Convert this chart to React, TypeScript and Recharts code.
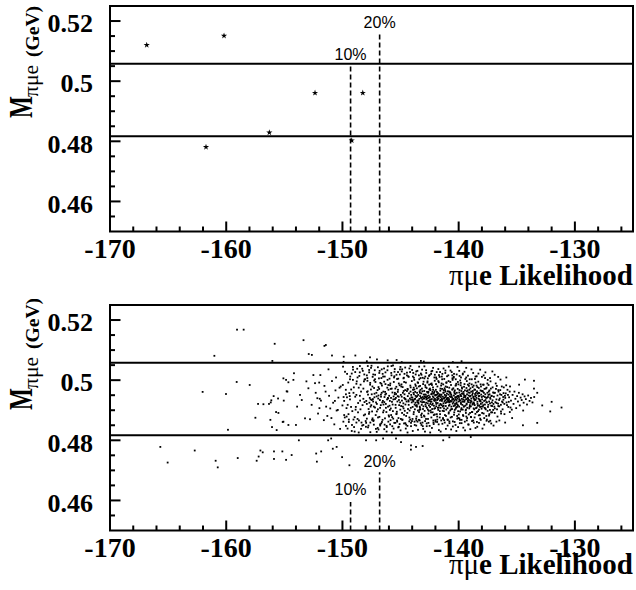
import React from 'react'
import {
  ScatterChart, Scatter, XAxis, YAxis,
  ReferenceLine, ReferenceArea, Symbols,
} from 'recharts'

// ── Axes ──────────────────────────────────────────────────────────────────────
const X_DOMAIN: [number, number] = [-170, -125]
const Y_DOMAIN: [number, number] = [0.45, 0.525]
const xTicks = [-170, -168, -166, -164, -162, -160, -158, -156, -154, -152, -150, -148, -146, -144, -142, -140, -138, -136, -134, -132, -130, -128, -126]
const xMajor = [-170, -160, -150, -140, -130]
const yTicks = [0.455, 0.46, 0.465, 0.47, 0.475, 0.48, 0.485, 0.49, 0.495, 0.5, 0.505, 0.51, 0.515, 0.52]
const yMajor = [0.46, 0.48, 0.5, 0.52]

// mass window and likelihood cuts
const massWindow = [0.4817, 0.5058]
const cutLabels = ['10%', '20%']
const cutX = [-149.3, -146.8]
const topCutTops = [0.5058, 0.516]
const bottomCutTops = [0.4595, 0.4694]

// ── Data: top panel (candidates) ──────────────────────────────────────────────
const dataStars = [
  [-166.84, 0.512], [-160.19, 0.5151], [-161.74, 0.4781], [-156.29, 0.4829],
  [-152.36, 0.4961], [-148.25, 0.4961], [-149.2, 0.4803],
]

// ── Data: bottom panel (signal MC) ────────────────────────────────────────────
const mcLeftTail = [
  [-159.07, 0.5168], [-158.5, 0.5168], [-155.83, 0.5121], [-161.02, 0.5081], [-156.03, 0.5064],
  [-155.08, 0.5006], [-154.65, 0.4993], [-159.1, 0.4994], [-157.98, 0.4984], [-162.03, 0.4961],
  [-160.02, 0.4954], [-154.8, 0.4963], [-155.92, 0.4947], [-155.54, 0.4939], [-156.12, 0.4933],
  [-155.05, 0.4932], [-157.26, 0.4921], [-156.8, 0.492], [-156.32, 0.4921], [-156.17, 0.4926],
  [-155.71, 0.4894], [-155.51, 0.4891], [-157.49, 0.4875], [-156.2, 0.4868], [-155.14, 0.4861],
  [-156.06, 0.4844], [-155.66, 0.4834], [-154.65, 0.4851], [-159.85, 0.4835],
  [-165.67, 0.4778], [-162.71, 0.4766], [-165.04, 0.4726], [-160.91, 0.4732], [-160.73, 0.471],
  [-159.01, 0.4741], [-157.06, 0.4766], [-156.86, 0.476], [-157.21, 0.4746], [-157.38, 0.4732],
  [-155.89, 0.4763], [-155.17, 0.4763], [-155.89, 0.4738], [-154.85, 0.4735],
]
const mcBandA = [
  [-154.17, 0.5023], [-154.85, 0.5001], [-154.22, 0.5001], [-154.74, 0.4962], [-155.08, 0.4862],
  [-154.0, 0.4851], [-153.22, 0.4873], [-152.79, 0.487], [-153.65, 0.4951], [-153.5, 0.4934],
  [-152.93, 0.4973], [-152.5, 0.5017], [-152.36, 0.499], [-152.16, 0.494], [-151.98, 0.4907],
  [-152.65, 0.4918], [-153.9, 0.4912], [-153.1, 0.4996],
]
const mcBandB = [
  [-152.3, 0.4958], [-152.1, 0.4889], [-151.9, 0.5017], [-151.85, 0.4932], [-151.6, 0.4867], [-151.55, 0.4981],
  [-151.4, 0.4912], [-151.2, 0.5036], [-151.15, 0.4948], [-150.95, 0.4874], [-150.9, 0.4997], [-150.8, 0.4925],
  [-150.7, 0.4853], [-150.6, 0.4966], [-150.55, 0.5009], [-150.4, 0.4901], [-150.35, 0.4942], [-150.2, 0.4838],
  [-150.15, 0.4979], [-150.0, 0.4916], [-149.95, 0.5045], [-149.85, 0.4884], [-149.7, 0.4953], [-149.65, 0.4907],
  [-149.5, 0.4992], [-149.45, 0.4861], [-149.35, 0.4936], [-149.2, 0.5022], [-149.15, 0.4897], [-149.05, 0.4958],
  [-148.95, 0.4829], [-148.9, 0.4945], [-148.8, 0.4988], [-148.7, 0.4871], [-148.65, 0.4924], [-148.55, 0.5014],
  [-148.45, 0.4903], [-148.4, 0.4962], [-148.3, 0.4849], [-148.2, 0.4938], [-148.15, 0.4996], [-148.05, 0.4886],
  [-151.95, 0.4938], [-151.45, 0.4962], [-151.05, 0.4906], [-150.65, 0.4931], [-150.25, 0.4975], [-149.9, 0.4944],
  [-149.55, 0.4918], [-149.25, 0.4969], [-148.85, 0.4911], [-148.5, 0.4948], [-148.1, 0.4927], [-152.0, 0.4992],
  [-151.3, 0.4881], [-150.5, 0.4899], [-149.8, 0.4876], [-149.1, 0.5001], [-148.6, 0.4975], [-148.25, 0.5031],
]
const mcBandC = [
  [-147.95, 0.4931], [-147.9, 0.4872], [-147.85, 0.4998], [-147.8, 0.4952], [-147.75, 0.4904], [-147.7, 0.5026],
  [-147.65, 0.4941], [-147.6, 0.4859], [-147.55, 0.4969], [-147.52, 0.4917], [-147.88, 0.4961], [-147.72, 0.4888],
  [-147.62, 0.4985], [-147.98, 0.4845], [-147.58, 0.4936], [-147.82, 0.5047], [-147.68, 0.4925],
  [-147.48, 0.4953], [-147.45, 0.4896], [-147.4, 0.5011], [-147.36, 0.4929], [-147.32, 0.4867], [-147.28, 0.4974],
  [-147.25, 0.4943], [-147.2, 0.4909], [-147.16, 0.4994], [-147.12, 0.4838], [-147.08, 0.4958], [-147.04, 0.4921],
  [-147.42, 0.4979], [-147.3, 0.4912], [-147.22, 0.5033], [-147.14, 0.4884], [-147.06, 0.4946], [-147.38, 0.4937],
  [-146.98, 0.4967], [-146.95, 0.4903], [-146.9, 0.4949], [-146.86, 0.5006], [-146.82, 0.4878], [-146.78, 0.4934],
  [-146.74, 0.4991], [-146.7, 0.4917], [-146.66, 0.4856], [-146.62, 0.4958], [-146.58, 0.4926], [-146.54, 0.5021],
  [-146.5, 0.4893], [-146.92, 0.4939], [-146.84, 0.4971], [-146.76, 0.4908], [-146.68, 0.4945], [-146.6, 0.4982],
  [-146.52, 0.4931],
  [-146.48, 0.4962], [-146.45, 0.4899], [-146.42, 0.5039], [-146.38, 0.4944], [-146.34, 0.4873], [-146.3, 0.4987],
  [-146.27, 0.4921], [-146.24, 0.4955], [-146.2, 0.4848], [-146.16, 0.4936], [-146.12, 0.5001], [-146.08, 0.4912],
  [-146.04, 0.4968], [-146.4, 0.4927], [-146.32, 0.4952], [-146.22, 0.4894], [-146.14, 0.4975], [-146.06, 0.4939],
  [-146.02, 0.4883], [-146.36, 0.5012],
  [-145.98, 0.4948], [-145.95, 0.4915], [-145.9, 0.4983], [-145.86, 0.4867], [-145.82, 0.4941], [-145.78, 0.5016],
  [-145.74, 0.4928], [-145.7, 0.4959], [-145.66, 0.4897], [-145.62, 0.4936], [-145.58, 0.4994], [-145.54, 0.4858],
  [-145.5, 0.4953], [-145.92, 0.4931], [-145.84, 0.4906], [-145.76, 0.4972], [-145.68, 0.4919], [-145.6, 0.4946],
  [-145.52, 0.5028], [-145.88, 0.4989], [-145.72, 0.4877],
  [-145.48, 0.4937], [-145.45, 0.4972], [-145.42, 0.4908], [-145.38, 0.4954], [-145.34, 0.4889], [-145.3, 0.5004],
  [-145.27, 0.4929], [-145.24, 0.4961], [-145.2, 0.4843], [-145.16, 0.4945], [-145.12, 0.4917], [-145.08, 0.4983],
  [-145.04, 0.4926], [-145.4, 0.4941], [-145.32, 0.4895], [-145.22, 0.4968], [-145.14, 0.4934], [-145.06, 0.5019],
  [-145.02, 0.4902], [-145.36, 0.4978], [-145.18, 0.4874],
  [-144.98, 0.4951], [-144.95, 0.4914], [-144.92, 0.4986], [-144.88, 0.4932], [-144.84, 0.4869], [-144.8, 0.4958],
  [-144.76, 0.4923], [-144.72, 0.5008], [-144.68, 0.4941], [-144.64, 0.4898], [-144.6, 0.4967], [-144.56, 0.4936],
  [-144.52, 0.4852], [-144.9, 0.4945], [-144.82, 0.4977], [-144.74, 0.4906], [-144.66, 0.4953], [-144.58, 0.4919],
  [-144.54, 0.4992], [-144.86, 0.5036], [-144.7, 0.4885], [-144.62, 0.4938],
  [-144.48, 0.4929], [-144.45, 0.4964], [-144.42, 0.4891], [-144.38, 0.4947], [-144.34, 0.5013], [-144.3, 0.4918],
  [-144.27, 0.4956], [-144.24, 0.4876], [-144.2, 0.4939], [-144.16, 0.4982], [-144.12, 0.4908], [-144.08, 0.4951],
  [-144.04, 0.4926], [-144.4, 0.4971], [-144.32, 0.4933], [-144.22, 0.4899], [-144.14, 0.4962], [-144.06, 0.4943],
  [-144.02, 0.4864], [-144.36, 0.4904], [-144.18, 0.5027], [-144.1, 0.4935],
]
const mcBandD = [
  [-143.98, 0.4942], [-143.96, 0.4911], [-143.93, 0.4968], [-143.9, 0.4929], [-143.88, 0.4887], [-143.85, 0.4953],
  [-143.82, 0.5001], [-143.8, 0.4936], [-143.77, 0.4903], [-143.74, 0.4961], [-143.72, 0.4925], [-143.69, 0.4981],
  [-143.66, 0.4872], [-143.64, 0.4944], [-143.61, 0.4917], [-143.58, 0.4958], [-143.56, 0.4932], [-143.53, 0.4993],
  [-143.51, 0.4899], [-143.95, 0.4935], [-143.87, 0.4975], [-143.79, 0.4919], [-143.71, 0.4948], [-143.63, 0.4866],
  [-143.55, 0.4927], [-143.91, 0.5024], [-143.75, 0.4938], [-143.59, 0.4912],
  [-143.48, 0.4951], [-143.46, 0.4922], [-143.43, 0.4979], [-143.41, 0.4894], [-143.38, 0.4938], [-143.36, 0.4963],
  [-143.33, 0.4908], [-143.31, 0.4947], [-143.28, 0.5007], [-143.26, 0.4929], [-143.23, 0.4884], [-143.21, 0.4956],
  [-143.18, 0.4918], [-143.16, 0.4972], [-143.13, 0.4935], [-143.11, 0.4859], [-143.08, 0.4944], [-143.06, 0.4987],
  [-143.03, 0.4913], [-143.01, 0.4952], [-143.45, 0.4933], [-143.37, 0.4901], [-143.29, 0.4968], [-143.22, 0.4941],
  [-143.14, 0.4926], [-143.07, 0.4904], [-143.42, 0.5016], [-143.34, 0.4958], [-143.19, 0.4877], [-143.04, 0.4939],
  [-142.98, 0.4927], [-142.96, 0.4964], [-142.93, 0.4898], [-142.91, 0.4945], [-142.88, 0.4983], [-142.86, 0.4919],
  [-142.83, 0.4952], [-142.81, 0.4871], [-142.78, 0.4936], [-142.76, 0.4974], [-142.73, 0.4908], [-142.71, 0.4947],
  [-142.68, 0.4996], [-142.66, 0.4923], [-142.63, 0.4958], [-142.61, 0.4889], [-142.58, 0.4941], [-142.56, 0.4916],
  [-142.53, 0.4969], [-142.51, 0.4933], [-142.95, 0.4939], [-142.87, 0.5012], [-142.8, 0.4925], [-142.72, 0.4961],
  [-142.65, 0.4902], [-142.57, 0.4949], [-142.94, 0.4879], [-142.77, 0.4943], [-142.62, 0.4931], [-142.54, 0.4985],
  [-142.48, 0.4944], [-142.46, 0.4911], [-142.43, 0.4967], [-142.41, 0.4928], [-142.38, 0.4893], [-142.36, 0.4953],
  [-142.33, 0.4989], [-142.31, 0.4937], [-142.28, 0.4904], [-142.26, 0.4961], [-142.23, 0.4922], [-142.21, 0.4976],
  [-142.18, 0.4866], [-142.16, 0.4942], [-142.13, 0.4915], [-142.11, 0.4958], [-142.08, 0.4931], [-142.06, 0.4998],
  [-142.03, 0.4907], [-142.01, 0.4949], [-142.45, 0.4936], [-142.37, 0.5021], [-142.29, 0.4918], [-142.22, 0.4946],
  [-142.14, 0.4884], [-142.07, 0.4963], [-142.42, 0.4899], [-142.34, 0.4929], [-142.19, 0.4955], [-142.04, 0.4938],
  [-141.98, 0.4934], [-141.96, 0.4968], [-141.93, 0.4913], [-141.91, 0.4951], [-141.88, 0.4887], [-141.86, 0.4942],
  [-141.83, 0.4979], [-141.81, 0.4924], [-141.78, 0.4957], [-141.76, 0.4901], [-141.73, 0.4939], [-141.71, 0.4993],
  [-141.68, 0.4916], [-141.66, 0.4948], [-141.63, 0.4876], [-141.61, 0.4932], [-141.58, 0.4965], [-141.56, 0.4908],
  [-141.53, 0.4944], [-141.51, 0.4982], [-141.95, 0.4926], [-141.87, 0.4961], [-141.8, 0.4937], [-141.72, 0.4909],
  [-141.65, 0.4953], [-141.57, 0.4921], [-141.94, 0.5009], [-141.77, 0.4946], [-141.62, 0.4897], [-141.54, 0.4935],
  [-141.69, 0.5017], [-141.84, 0.4869],
  [-141.48, 0.4952], [-141.46, 0.4917], [-141.43, 0.4971], [-141.41, 0.4936], [-141.38, 0.4898], [-141.36, 0.4945],
  [-141.33, 0.4986], [-141.31, 0.4923], [-141.28, 0.4959], [-141.26, 0.4906], [-141.23, 0.4941], [-141.21, 0.4973],
  [-141.18, 0.4884], [-141.16, 0.4933], [-141.13, 0.4962], [-141.11, 0.4914], [-141.08, 0.4948], [-141.06, 0.4991],
  [-141.03, 0.4927], [-141.01, 0.4955], [-141.45, 0.4938], [-141.37, 0.4912], [-141.29, 0.4967], [-141.22, 0.4929],
  [-141.14, 0.4944], [-141.07, 0.4902], [-141.42, 0.5003], [-141.34, 0.4871], [-141.19, 0.4951], [-141.04, 0.4936],
  [-141.27, 0.4939], [-141.12, 0.4979],
  [-140.98, 0.4941], [-140.96, 0.4907], [-140.93, 0.4963], [-140.91, 0.4928], [-140.88, 0.4952], [-140.86, 0.4889],
  [-140.83, 0.4937], [-140.81, 0.4975], [-140.78, 0.4918], [-140.76, 0.4946], [-140.73, 0.4899], [-140.71, 0.4958],
  [-140.68, 0.4931], [-140.66, 0.4984], [-140.63, 0.4912], [-140.61, 0.4947], [-140.58, 0.4878], [-140.56, 0.4935],
  [-140.53, 0.4969], [-140.51, 0.4922], [-140.95, 0.4934], [-140.87, 0.4997], [-140.8, 0.4926], [-140.72, 0.4955],
  [-140.65, 0.4903], [-140.57, 0.4942], [-140.94, 0.4868], [-140.77, 0.4961], [-140.62, 0.4929], [-140.54, 0.5006],
  [-140.69, 0.4944], [-140.84, 0.4915],
  [-140.48, 0.4938], [-140.46, 0.4973], [-140.43, 0.4914], [-140.41, 0.4949], [-140.38, 0.4893], [-140.36, 0.4932],
  [-140.33, 0.4966], [-140.31, 0.4921], [-140.28, 0.4954], [-140.26, 0.4905], [-140.23, 0.4943], [-140.21, 0.4988],
  [-140.18, 0.4926], [-140.16, 0.4958], [-140.13, 0.4881], [-140.11, 0.4939], [-140.08, 0.4971], [-140.06, 0.4916],
  [-140.03, 0.4948], [-140.01, 0.4929], [-140.45, 0.4927], [-140.37, 0.4961], [-140.29, 0.4937], [-140.22, 0.4909],
  [-140.14, 0.4945], [-140.07, 0.4994], [-140.42, 0.5011], [-140.34, 0.4901], [-140.19, 0.4934], [-140.04, 0.4874],
  [-140.27, 0.4982], [-140.12, 0.4919],
]
const mcBandE = [
  [-139.98, 0.4944], [-139.96, 0.4912], [-139.93, 0.4967], [-139.91, 0.4931], [-139.88, 0.4896], [-139.86, 0.4952],
  [-139.83, 0.4983], [-139.81, 0.4925], [-139.78, 0.4947], [-139.76, 0.4907], [-139.73, 0.4938], [-139.71, 0.4972],
  [-139.68, 0.4918], [-139.66, 0.4956], [-139.63, 0.4884], [-139.61, 0.4936], [-139.58, 0.4961], [-139.56, 0.4913],
  [-139.53, 0.4949], [-139.51, 0.4928], [-139.95, 0.4937], [-139.87, 0.4999], [-139.8, 0.4921], [-139.72, 0.4955],
  [-139.65, 0.4902], [-139.57, 0.4943], [-139.94, 0.4873], [-139.77, 0.4964], [-139.62, 0.4929], [-139.54, 0.4978],
  [-139.48, 0.4933], [-139.46, 0.4966], [-139.43, 0.4915], [-139.41, 0.4948], [-139.38, 0.4891], [-139.36, 0.4937],
  [-139.33, 0.4974], [-139.31, 0.4922], [-139.28, 0.4953], [-139.26, 0.4908], [-139.23, 0.4941], [-139.21, 0.4985],
  [-139.18, 0.4927], [-139.16, 0.4959], [-139.13, 0.4886], [-139.11, 0.4934], [-139.08, 0.4968], [-139.06, 0.4911],
  [-139.03, 0.4946], [-139.01, 0.4926], [-139.45, 0.4944], [-139.37, 0.4902], [-139.29, 0.4963], [-139.22, 0.4931],
  [-139.14, 0.4949], [-139.07, 0.4989], [-139.42, 0.5004], [-139.34, 0.4879], [-139.19, 0.4939], [-139.04, 0.4917],
  [-138.98, 0.4948], [-138.95, 0.4913], [-138.92, 0.4962], [-138.89, 0.4929], [-138.86, 0.4894], [-138.83, 0.4951],
  [-138.8, 0.4977], [-138.77, 0.4923], [-138.74, 0.4945], [-138.71, 0.4906], [-138.68, 0.4938], [-138.65, 0.4969],
  [-138.62, 0.4917], [-138.59, 0.4954], [-138.56, 0.4888], [-138.53, 0.4935], [-138.51, 0.4958], [-138.96, 0.4932],
  [-138.88, 0.4986], [-138.81, 0.4919], [-138.73, 0.4942], [-138.66, 0.4903], [-138.58, 0.4947], [-138.93, 0.4877],
  [-138.78, 0.4964], [-138.63, 0.4934], [-138.54, 0.4992], [-138.7, 0.4926],
  [-138.48, 0.4941], [-138.45, 0.4909], [-138.42, 0.4963], [-138.39, 0.4928], [-138.36, 0.4955], [-138.33, 0.4897],
  [-138.3, 0.4939], [-138.27, 0.4974], [-138.24, 0.4916], [-138.21, 0.4948], [-138.18, 0.4884], [-138.15, 0.4933],
  [-138.12, 0.4966], [-138.09, 0.4921], [-138.06, 0.4952], [-138.03, 0.4905], [-138.01, 0.4944], [-138.46, 0.4982],
  [-138.38, 0.4921], [-138.31, 0.4958], [-138.23, 0.4936], [-138.16, 0.4911], [-138.08, 0.4979], [-138.43, 0.4894],
  [-138.26, 0.4947], [-138.11, 0.4929],
  [-137.98, 0.4936], [-137.95, 0.4964], [-137.92, 0.4912], [-137.88, 0.4947], [-137.85, 0.4889], [-137.81, 0.4931],
  [-137.78, 0.4971], [-137.74, 0.4919], [-137.71, 0.4953], [-137.67, 0.4903], [-137.64, 0.4941], [-137.6, 0.4975],
  [-137.57, 0.4926], [-137.53, 0.4958], [-137.51, 0.4898], [-137.96, 0.4925], [-137.83, 0.4958], [-137.69, 0.4934],
  [-137.55, 0.4942], [-137.9, 0.4985], [-137.76, 0.4908], [-137.62, 0.4881],
  [-137.48, 0.4944], [-137.45, 0.4918], [-137.41, 0.4962], [-137.38, 0.4929], [-137.34, 0.4953], [-137.31, 0.4901],
  [-137.27, 0.4938], [-137.23, 0.4972], [-137.2, 0.4915], [-137.16, 0.4947], [-137.12, 0.4893], [-137.08, 0.4933],
  [-137.04, 0.4959], [-137.01, 0.4921], [-137.43, 0.4984], [-137.29, 0.4942], [-137.14, 0.4926], [-137.36, 0.4887],
  [-136.97, 0.4945], [-136.93, 0.4912], [-136.88, 0.4958], [-136.84, 0.4927], [-136.79, 0.4971], [-136.75, 0.4936],
  [-136.7, 0.4903], [-136.66, 0.4949], [-136.61, 0.4922], [-136.57, 0.4962], [-136.52, 0.4934], [-136.9, 0.4891],
  [-136.72, 0.4981], [-136.59, 0.4914],
  [-136.47, 0.4939], [-136.42, 0.4967], [-136.37, 0.4918], [-136.32, 0.4951], [-136.27, 0.4929], [-136.22, 0.4903],
  [-136.17, 0.4944], [-136.12, 0.4976], [-136.07, 0.4921], [-136.02, 0.4948], [-136.35, 0.4889], [-136.15, 0.4935],
]
const mcBandF = [
  [-135.95, 0.4956], [-135.88, 0.4926], [-135.8, 0.4968], [-135.73, 0.4911], [-135.66, 0.4943], [-135.58, 0.4979],
  [-135.5, 0.4932], [-135.43, 0.4902], [-135.36, 0.4951], [-135.28, 0.4921], [-135.2, 0.4962], [-135.12, 0.4938],
  [-135.05, 0.4907], [-134.97, 0.4947], [-134.9, 0.4929], [-134.82, 0.4958], [-134.74, 0.4916], [-134.67, 0.4942],
  [-134.58, 0.4934], [-134.5, 0.4953], [-134.41, 0.4925], [-134.33, 0.4946], [-134.22, 0.4937], [-134.12, 0.4919],
  [-134.02, 0.4949], [-133.9, 0.4931], [-133.78, 0.4941], [-133.65, 0.4926], [-133.5, 0.4944], [-135.6, 0.4894],
  [-134.8, 0.4985], [-135.4, 0.4874], [-134.45, 0.4899],
]
// wider spread of the core
const mcSpreadC = [
  [-149.92, 0.4862], [-149.78, 0.5028], [-149.61, 0.4943], [-149.48, 0.4887], [-149.33, 0.5012], [-149.18, 0.4851],
  [-149.02, 0.4976], [-148.87, 0.4902], [-148.73, 0.5038], [-148.58, 0.4866], [-148.44, 0.4985], [-148.27, 0.4917],
  [-148.12, 0.5019], [-147.96, 0.4858], [-147.83, 0.4963], [-147.69, 0.4894], [-147.54, 0.5041], [-147.41, 0.4873],
  [-147.27, 0.4999], [-147.11, 0.4926], [-146.97, 0.4841], [-146.83, 0.5024], [-146.69, 0.4952], [-146.55, 0.4868],
  [-146.41, 0.4995], [-146.26, 0.4908], [-146.13, 0.5033], [-145.99, 0.4879], [-145.85, 0.4971], [-145.71, 0.4847],
  [-145.56, 0.5009], [-145.43, 0.4918], [-145.29, 0.4862], [-145.15, 0.4989], [-145.01, 0.5044], [-144.87, 0.4891],
  [-144.73, 0.4964], [-144.59, 0.4857], [-144.45, 0.5016], [-144.31, 0.4929], [-144.17, 0.4869], [-144.03, 0.4997],
  [-149.85, 0.4931], [-149.71, 0.4968], [-149.56, 0.4839], [-149.41, 0.4957], [-149.26, 0.4911], [-149.09, 0.5035],
  [-148.95, 0.4877], [-148.8, 0.4951], [-148.66, 0.4893], [-148.51, 0.5026], [-148.36, 0.4859], [-148.2, 0.4972],
  [-148.05, 0.5003], [-147.9, 0.4921], [-147.76, 0.4849], [-147.61, 0.4991], [-147.47, 0.4934], [-147.34, 0.4864],
  [-147.19, 0.5018], [-147.04, 0.4896], [-146.9, 0.4977], [-146.76, 0.4853], [-146.62, 0.5036], [-146.47, 0.4919],
  [-146.33, 0.4961], [-146.19, 0.4844], [-146.05, 0.4984], [-145.92, 0.4901], [-145.78, 0.5047], [-145.63, 0.4872],
  [-145.49, 0.4958], [-145.36, 0.4887], [-145.22, 0.5027], [-145.08, 0.4854], [-144.94, 0.4979], [-144.8, 0.4912],
  [-144.66, 0.5021], [-144.52, 0.4881], [-144.38, 0.4969], [-144.24, 0.5039], [-144.1, 0.4858],
  [-149.97, 0.4984], [-149.64, 0.4879], [-149.37, 0.4947], [-149.05, 0.4869], [-148.77, 0.4996], [-148.48, 0.4932],
  [-148.16, 0.4883], [-147.86, 0.5007], [-147.58, 0.4912], [-147.24, 0.4955], [-146.94, 0.4876], [-146.65, 0.4988],
  [-146.37, 0.4852], [-146.09, 0.4941], [-145.81, 0.4884], [-145.53, 0.5013], [-145.25, 0.4947], [-144.97, 0.4871],
  [-144.69, 0.4994], [-144.41, 0.4848], [-144.13, 0.4976],
]
const mcSpreadD = [
  [-143.97, 0.4871], [-143.94, 0.5012], [-143.89, 0.4958], [-143.86, 0.4894], [-143.81, 0.4969], [-143.78, 0.4851],
  [-143.73, 0.4986], [-143.7, 0.4915], [-143.65, 0.5029], [-143.62, 0.4879], [-143.57, 0.4947], [-143.54, 0.4862],
  [-143.49, 0.4991], [-143.47, 0.4926], [-143.42, 0.4868], [-143.39, 0.5003], [-143.35, 0.4912], [-143.32, 0.4981],
  [-143.27, 0.4857], [-143.24, 0.4942], [-143.2, 0.5018], [-143.17, 0.4889], [-143.12, 0.4963], [-143.09, 0.4847],
  [-143.05, 0.4927], [-143.02, 0.4995], [-143.92, 0.4932], [-143.6, 0.4973], [-143.3, 0.4903], [-143.15, 0.5035],
  [-142.99, 0.4882], [-142.95, 0.5006], [-142.92, 0.4952], [-142.89, 0.4864], [-142.85, 0.4977], [-142.82, 0.4913],
  [-142.79, 0.5024], [-142.75, 0.4856], [-142.72, 0.4939], [-142.69, 0.4992], [-142.64, 0.4871], [-142.6, 0.4961],
  [-142.57, 0.4898], [-142.55, 0.5014], [-142.5, 0.4848], [-142.47, 0.4972], [-142.44, 0.4921], [-142.4, 0.4987],
  [-142.35, 0.4876], [-142.32, 0.4955], [-142.27, 0.5031], [-142.24, 0.4893], [-142.2, 0.4968], [-142.17, 0.4859],
  [-142.12, 0.4934], [-142.09, 0.5009], [-142.05, 0.4886], [-142.02, 0.4951], [-142.84, 0.4943], [-142.53, 0.4931],
  [-142.3, 0.4984], [-142.1, 0.4905],
  [-141.99, 0.4862], [-141.95, 0.4987], [-141.92, 0.4921], [-141.89, 0.5027], [-141.85, 0.4879], [-141.82, 0.4954],
  [-141.79, 0.4908], [-141.75, 0.4997], [-141.72, 0.4853], [-141.69, 0.4946], [-141.64, 0.5011], [-141.6, 0.4887],
  [-141.57, 0.4972], [-141.55, 0.4919], [-141.5, 0.4866], [-141.47, 0.4989], [-141.44, 0.4931], [-141.4, 0.5021],
  [-141.35, 0.4874], [-141.32, 0.4958], [-141.27, 0.4897], [-141.24, 0.5004], [-141.2, 0.4859], [-141.17, 0.4967],
  [-141.12, 0.4924], [-141.09, 0.4881], [-141.05, 0.4993], [-141.02, 0.4938], [-141.84, 0.4934], [-141.52, 0.4951],
  [-141.3, 0.4915], [-141.14, 0.5032],
  [-140.99, 0.4977], [-140.95, 0.4869], [-140.92, 0.4941], [-140.89, 0.5016], [-140.85, 0.4893], [-140.82, 0.4962],
  [-140.79, 0.4857], [-140.75, 0.4929], [-140.72, 0.4994], [-140.69, 0.4876], [-140.64, 0.4952], [-140.6, 0.5027],
  [-140.57, 0.4904], [-140.55, 0.4969], [-140.5, 0.4863], [-140.47, 0.4936], [-140.44, 0.5008], [-140.4, 0.4885],
  [-140.35, 0.4957], [-140.32, 0.4916], [-140.27, 0.4851], [-140.24, 0.4983], [-140.2, 0.4922], [-140.17, 0.5019],
  [-140.12, 0.4872], [-140.09, 0.4947], [-140.05, 0.4897], [-140.02, 0.4986], [-140.84, 0.4931], [-140.52, 0.5001],
  [-140.3, 0.4943], [-140.14, 0.4911],
  [-139.99, 0.4886], [-139.95, 0.4959], [-139.92, 0.5014], [-139.89, 0.4868], [-139.85, 0.4933], [-139.82, 0.4991],
  [-139.79, 0.4902], [-139.75, 0.4857], [-139.72, 0.4976], [-139.69, 0.4929], [-139.64, 0.5022], [-139.6, 0.4881],
  [-139.57, 0.4954], [-139.55, 0.4912], [-139.5, 0.4987], [-139.47, 0.4862], [-139.44, 0.4945], [-139.4, 0.4899],
  [-139.35, 0.5009], [-139.32, 0.4919], [-139.27, 0.4874], [-139.24, 0.4966], [-139.2, 0.4938], [-139.17, 0.4853],
  [-139.12, 0.4981], [-139.09, 0.4906], [-139.05, 0.4958], [-139.02, 0.4891], [-139.84, 0.4948], [-139.3, 0.4997],
  [-138.99, 0.4973], [-138.95, 0.4878], [-138.91, 0.4939], [-138.87, 0.5003], [-138.83, 0.4894], [-138.79, 0.4957],
  [-138.75, 0.4866], [-138.71, 0.4982], [-138.67, 0.4921], [-138.63, 0.4876], [-138.59, 0.4968], [-138.55, 0.5012],
  [-138.51, 0.4907], [-138.47, 0.4949], [-138.43, 0.4861], [-138.39, 0.4977], [-138.35, 0.4915], [-138.31, 0.4995],
  [-138.27, 0.4883], [-138.23, 0.4957], [-138.19, 0.4931], [-138.15, 0.4872], [-138.11, 0.4986], [-138.07, 0.4912],
  [-138.03, 0.4964], [-138.97, 0.4925], [-138.61, 0.4934], [-138.25, 0.4902],
  [-137.98, 0.4891], [-137.93, 0.4962], [-137.89, 0.4917], [-137.85, 0.4985], [-137.8, 0.4874], [-137.75, 0.4944],
  [-137.71, 0.4906], [-137.66, 0.4972], [-137.62, 0.4927], [-137.57, 0.4869], [-137.53, 0.4989], [-137.48, 0.4911],
  [-137.44, 0.4951], [-137.39, 0.4882], [-137.35, 0.4966], [-137.3, 0.4923], [-137.26, 0.4996], [-137.21, 0.4893],
  [-137.17, 0.4948], [-137.12, 0.4914], [-137.08, 0.4976], [-137.03, 0.4901], [-137.73, 0.5007], [-137.28, 0.4865],
  [-136.96, 0.4958], [-136.89, 0.4906], [-136.81, 0.4989], [-136.74, 0.4924], [-136.66, 0.4879], [-136.59, 0.4967],
  [-136.51, 0.4913], [-136.44, 0.4953], [-136.36, 0.4896], [-136.29, 0.4979], [-136.21, 0.4926], [-136.14, 0.4957],
  [-136.06, 0.4887], [-135.99, 0.4941], [-135.91, 0.4983], [-135.84, 0.4917], [-135.76, 0.4951], [-135.69, 0.4928],
  [-135.61, 0.4962], [-135.54, 0.4909],
]
// points near the edges of the mass window
const mcEdgeHigh = [
  [-149.6, 0.5021], [-149.1, 0.5044], [-148.7, 0.5009], [-148.3, 0.5038], [-147.9, 0.5016], [-147.5, 0.5048],
  [-147.2, 0.5003], [-146.8, 0.5031], [-146.5, 0.5012], [-146.1, 0.5046], [-145.8, 0.5024], [-145.5, 0.5037],
  [-145.2, 0.5005], [-144.9, 0.5029], [-144.6, 0.5042], [-144.3, 0.5011], [-144.0, 0.5034], [-143.7, 0.5019],
  [-143.4, 0.5045], [-143.1, 0.5008], [-142.8, 0.5033], [-142.5, 0.5017], [-142.2, 0.5041], [-141.9, 0.5004],
  [-141.6, 0.5027], [-141.3, 0.5039], [-141.0, 0.5013], [-140.7, 0.5032], [-140.4, 0.5021], [-140.1, 0.5044],
  [-139.8, 0.5009], [-139.5, 0.5028], [-139.2, 0.5015], [-138.9, 0.5036], [-138.6, 0.5004], [-138.3, 0.5022],
  [-138.0, 0.5011], [-137.7, 0.5026], [-137.3, 0.5007], [-136.9, 0.5018], [-136.4, 0.5002], [-135.9, 0.5009],
  [-149.35, 0.5003], [-148.9, 0.5027], [-148.5, 0.5047], [-148.1, 0.5002], [-147.7, 0.5034], [-147.35, 0.5019],
  [-146.95, 0.5043], [-146.65, 0.5007], [-146.3, 0.5026], [-145.95, 0.5005], [-145.65, 0.5049], [-145.35, 0.5018],
  [-145.05, 0.5036], [-144.75, 0.5006], [-144.45, 0.5025], [-144.15, 0.5047], [-143.85, 0.5008], [-143.55, 0.5031],
  [-143.25, 0.5022], [-142.95, 0.5046], [-142.65, 0.5006], [-142.35, 0.5029], [-142.05, 0.5018], [-141.75, 0.5037],
  [-141.45, 0.5012], [-141.15, 0.5024], [-140.85, 0.5045], [-140.55, 0.5016], [-140.25, 0.5003], [-139.95, 0.5031],
  [-139.65, 0.5019], [-139.35, 0.5041], [-139.05, 0.5003], [-138.75, 0.5024], [-138.45, 0.5013], [-138.15, 0.5035],
  [-137.85, 0.5016], [-137.5, 0.5001], [-137.1, 0.5029], [-136.6, 0.5011],
]
const mcEdgeLow = [
  [-149.7, 0.4848], [-149.2, 0.4831], [-148.8, 0.4859], [-148.4, 0.4838], [-148.0, 0.4864], [-147.6, 0.4827],
  [-147.3, 0.4852], [-146.9, 0.4836], [-146.6, 0.4861], [-146.2, 0.4829], [-145.9, 0.4853], [-145.6, 0.4839],
  [-145.3, 0.4866], [-145.0, 0.4833], [-144.7, 0.4856], [-144.4, 0.4826], [-144.1, 0.4847], [-143.8, 0.4862],
  [-143.5, 0.4835], [-143.2, 0.4851], [-142.9, 0.4829], [-142.6, 0.4858], [-142.3, 0.4841], [-142.0, 0.4867],
  [-141.7, 0.4834], [-141.4, 0.4855], [-141.1, 0.4838], [-140.8, 0.4863], [-140.5, 0.4846], [-140.2, 0.4831],
  [-139.9, 0.4857], [-139.6, 0.4842], [-139.3, 0.4866], [-139.0, 0.4837], [-138.7, 0.4859], [-138.4, 0.4845],
  [-138.1, 0.4868], [-137.8, 0.4852], [-137.4, 0.4862], [-137.0, 0.4849], [-136.5, 0.4866], [-136.0, 0.4859],
  [-149.45, 0.4869], [-149.0, 0.4844], [-148.6, 0.4826], [-148.2, 0.4851], [-147.8, 0.4843], [-147.45, 0.4868],
  [-147.05, 0.4828], [-146.75, 0.4849], [-146.4, 0.4837], [-146.05, 0.4862], [-145.75, 0.4826], [-145.45, 0.4858],
  [-145.15, 0.4845], [-144.85, 0.4868], [-144.55, 0.4839], [-144.25, 0.4863], [-143.95, 0.4831], [-143.65, 0.4849],
  [-143.35, 0.4866], [-143.05, 0.4838], [-142.75, 0.4847], [-142.45, 0.4826], [-142.15, 0.4854], [-141.85, 0.4861],
  [-141.55, 0.4829], [-141.25, 0.4867], [-140.95, 0.4849], [-140.65, 0.4836], [-140.35, 0.4861], [-140.05, 0.4844],
  [-139.75, 0.4868], [-139.45, 0.4833], [-139.15, 0.4852], [-138.85, 0.4864], [-138.55, 0.4841], [-138.25, 0.4858],
  [-137.95, 0.4839], [-137.6, 0.4865], [-137.2, 0.4856], [-136.75, 0.4862],
]
const mcRightTail = [
  [-134.3, 0.5002], [-133.52, 0.4998], [-133.52, 0.4972], [-133.24, 0.4958], [-132.81, 0.4916],
  [-132.0, 0.4928], [-132.12, 0.4896], [-131.15, 0.4909], [-133.24, 0.4858], [-134.47, 0.485],
]
const mcAbove = [
  [-153.35, 0.5133], [-151.55, 0.5114], [-151.43, 0.5117], [-152.9, 0.5087], [-152.63, 0.5084],
  [-150.9, 0.5082], [-149.89, 0.5078], [-148.89, 0.5082], [-147.63, 0.5076], [-147.03, 0.5069],
  [-146.11, 0.5066], [-145.34, 0.5067], [-143.25, 0.5064], [-149.9, 0.5061], [-147.9, 0.5063],
  [-144.9, 0.506], [-143.0, 0.5062], [-140.5, 0.506], [-139.75, 0.5063],
]
const mcBelow = [
  [-154.37, 0.4751], [-153.75, 0.48], [-152.26, 0.4756], [-151.83, 0.4763], [-151.23, 0.48],
  [-150.97, 0.4806], [-150.83, 0.4772], [-150.5, 0.4778], [-150.03, 0.4744], [-149.4, 0.4717],
  [-147.97, 0.48], [-147.1, 0.48], [-146.5, 0.4806], [-145.39, 0.4806], [-144.96, 0.4794],
  [-144.1, 0.4783], [-143.67, 0.4778], [-143.1, 0.4781], [-141.33, 0.48], [-140.8, 0.481],
  [-144.11, 0.4769], [-138.96, 0.4811], [-152.2, 0.4729],
]

// ── Helpers ───────────────────────────────────────────────────────────────────
const SERIF = '"Liberation Serif", "Times New Roman", "DejaVu Serif", serif'
const SANS = '"Liberation Sans", Arial, Helvetica, sans-serif'
const PLOT_L = 110
const PLOT_T = 6
const PLOT_W = 523
const PLOT_H = 225.5
// same linear mapping the chart uses for its plot box (used for the axis decoration overlay)
const px = (v: number) => PLOT_L + (v - X_DOMAIN[0]) / (X_DOMAIN[1] - X_DOMAIN[0]) * PLOT_W
const py = (v: number) => PLOT_T + (Y_DOMAIN[1] - v) / (Y_DOMAIN[1] - Y_DOMAIN[0]) * PLOT_H
const toPts = (arr: number[][]) => arr.map(([x, y]) => ({ x, y }))

const starPts = toPts(dataStars)
const mcPts = toPts([
  ...mcLeftTail, ...mcBandA, ...mcBandB, ...mcBandC, ...mcBandD, ...mcBandE, ...mcBandF,
  ...mcSpreadC, ...mcSpreadD, ...mcEdgeHigh, ...mcEdgeLow, ...mcRightTail, ...mcAbove, ...mcBelow,
])

function CutLabel({ viewBox, text, off }: any) {
  if (!viewBox) return null
  return (
    <text x={viewBox.x + (viewBox.width || 0) / 2} y={viewBox.y - off} textAnchor="middle"
      fontFamily={SANS} fontSize={16} fill="#000">
      {text}
    </text>
  )
}

const StarDot = (p: any) => <Symbols cx={p.cx} cy={p.cy} type="star" size={12} fill="#000" stroke="none" />
const CloudDot = (p: any) => <rect x={p.cx - 0.9} y={p.cy - 0.9} width={1.8} height={1.8} fill="#000" />

// ── Panel ─────────────────────────────────────────────────────────────────────
function Panel({ height, pts, stars, cutTops, labelOffsets, titleY, yTitleShift }: any) {
  const axisY = PLOT_T + PLOT_H
  return (
    <div style={{ position: 'relative', width: 636, height }}>
      <ScatterChart
        width={636} height={height}
        margin={{ top: PLOT_T, right: 636 - PLOT_L - PLOT_W, left: 0, bottom: height - PLOT_T - PLOT_H - 30 }}
      >
        <XAxis
          type="number" dataKey="x" domain={X_DOMAIN} ticks={xMajor} interval={0}
          allowDataOverflow axisLine={false} tickLine={false} tick={false} height={30}
        />
        <YAxis
          type="number" dataKey="y" domain={Y_DOMAIN} ticks={yMajor} interval={0}
          allowDataOverflow axisLine={false} tickLine={false} tickSize={0} tickMargin={17}
          width={PLOT_L}
          tick={{ fontFamily: SERIF, fontWeight: 'bold', fontSize: 26, fill: '#000', dy: 2 }}
        />

        <ReferenceArea
          x1={X_DOMAIN[0]} x2={X_DOMAIN[1]} y1={Y_DOMAIN[0]} y2={Y_DOMAIN[1]}
          fill="none" fillOpacity={0} stroke="#000" strokeWidth={2}
        />
        {massWindow.map(m => (
          <ReferenceLine key={m} y={m} stroke="#000" strokeWidth={2} />
        ))}
        {cutX.map((cx, i) => (
          <ReferenceLine
            key={cx}
            segment={[{ x: cx, y: Y_DOMAIN[0] }, { x: cx, y: cutTops[i] }]}
            stroke="#000" strokeWidth={1.6} strokeDasharray="5 3"
            label={(p: any) => <CutLabel {...p} text={cutLabels[i]} off={labelOffsets[i]} />}
          />
        ))}

        <Scatter
          data={pts} isAnimationActive={false}
          shape={stars ? StarDot : CloudDot}
        />
      </ScatterChart>

      <svg width={636} height={height} style={{ position: 'absolute', left: 0, top: 0, pointerEvents: 'none' }}>
        {/* inward ticks */}
        {xTicks.map(v => (
          <line key={'xt' + v} x1={px(v)} x2={px(v)} y1={axisY} y2={axisY - (xMajor.includes(v) ? 10 : 5)}
            stroke="#000" strokeWidth={2} />
        ))}
        {yTicks.map(v => (
          <line key={'yt' + v} x1={PLOT_L} x2={PLOT_L + (yMajor.includes(v) ? 10.5 : 5)} y1={py(v)} y2={py(v)}
            stroke="#000" strokeWidth={2} />
        ))}
        {/* x tick labels */}
        {xMajor.map(v => (
          <text key={'xl' + v} x={px(v)} y={axisY + 26.5} textAnchor="middle"
            style={{ fontFamily: SERIF, fontWeight: 700, fontSize: 28 }} fill="#000">
            {v}
          </text>
        ))}

        <text x={PLOT_L + PLOT_W} y={titleY} textAnchor="end" fontFamily={SERIF} fontSize={29} fill="#000">
          <tspan>πμ</tspan>
          <tspan fontWeight="bold">e Likelihood</tspan>
        </text>
        <g transform={`translate(0,${yTitleShift})`} fontFamily={SERIF} fill="#000">
          <text transform="translate(32,118) rotate(-90)" fontSize={33} fontWeight="bold"
            textLength={22} lengthAdjust="spacingAndGlyphs">M</text>
          <text transform="translate(38,97) rotate(-90)" fontSize={20}
            textLength={32} lengthAdjust="spacingAndGlyphs">πμe</text>
          <text transform="translate(39,57) rotate(-90)" fontSize={18} fontWeight="bold"
            textLength={51} lengthAdjust="spacingAndGlyphs">(GeV)</text>
        </g>
      </svg>
    </div>
  )
}

export default function App() {
  return (
    <div style={{ position: 'absolute', left: 0, top: 0, width: 636, height: 590, background: '#fff', overflow: 'hidden' }}>
      <Panel
        height={299} pts={starPts} stars cutTops={topCutTops} labelOffsets={[4, 5]}
        titleY={285} yTitleShift={0}
      />
      <Panel
        height={291} pts={mcPts} stars={false} cutTops={bottomCutTops} labelOffsets={[7, 5]}
        titleY={275} yTitleShift={-7}
      />
    </div>
  )
}
